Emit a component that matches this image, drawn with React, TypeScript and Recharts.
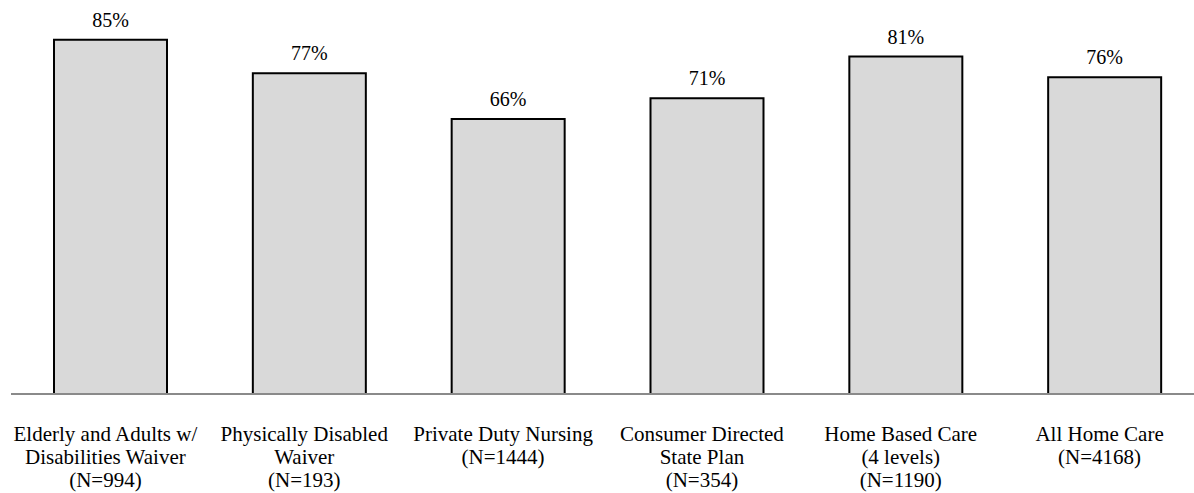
import { BarChart, Bar, XAxis, YAxis, LabelList } from 'recharts'

const programs = [
  'Elderly and Adults w/ Disabilities Waiver',
  'Physically Disabled Waiver',
  'Private Duty Nursing',
  'Consumer Directed State Plan',
  'Home Based Care (4 levels)',
  'All Home Care',
]

// how each tick label wraps, line by line
const tickLines = [
  ['Elderly and Adults w/', 'Disabilities Waiver', '(N=994)'],
  ['Physically Disabled', 'Waiver', '(N=193)'],
  ['Private Duty Nursing', '(N=1444)'],
  ['Consumer Directed', 'State Plan', '(N=354)'],
  ['Home Based Care', '(4 levels)', '(N=1190)'],
  ['All Home Care', '(N=4168)'],
]

const percents = [85, 77, 66, 71, 81, 76]

const data = programs.map((name, i) => ({ name, value: percents[i] }))

const FONT = "'Liberation Serif', 'Times New Roman', 'DejaVu Serif', serif"

function ProgramTick({ x, y, payload }: { x?: number; y?: number; payload?: { value: string; index: number } }) {
  const lines = tickLines[payload?.index ?? 0] ?? []
  // labels in the original sit a few px left of the bar centres
  const cx = (x ?? 0) - 5
  return (
    <text x={cx} y={y} textAnchor="middle" style={{ fill: '#000', fontSize: 21, fontFamily: FONT }}>
      {lines.map((l, i) => (
        <tspan key={i} x={cx} dy={i === 0 ? 39 : 23}>
          {l}
        </tspan>
      ))}
    </text>
  )
}

export default function App() {
  return (
    <div
      style={{
        position: 'absolute',
        left: 0,
        top: 0,
        width: 1194,
        height: 493,
        overflow: 'hidden',
        background: '#fff',
        fontFamily: FONT,
      }}
    >
      <BarChart
        width={1204}
        height={493}
        data={data}
        margin={{ top: 19, right: 0, left: 11, bottom: 0 }}
        barSize={113}
        style={{ fontFamily: FONT }}
      >
        <YAxis hide domain={[0, 90]} />
        <XAxis
          dataKey="name"
          height={99}
          interval={0}
          tickLine={false}
          axisLine={{ stroke: '#8a8a8a', strokeWidth: 2 }}
          tick={(props: any) => <ProgramTick {...props} />}
        />
        <Bar dataKey="value" fill="#d9d9d9" stroke="#000" strokeWidth={2} isAnimationActive={false}>
          <LabelList
            dataKey="value"
            position="top"
            offset={13}
            formatter={(v: any) => `${v}%`}
            style={{ fontSize: 20, fontFamily: FONT, fill: '#000' }}
          />
        </Bar>
      </BarChart>
    </div>
  )
}
